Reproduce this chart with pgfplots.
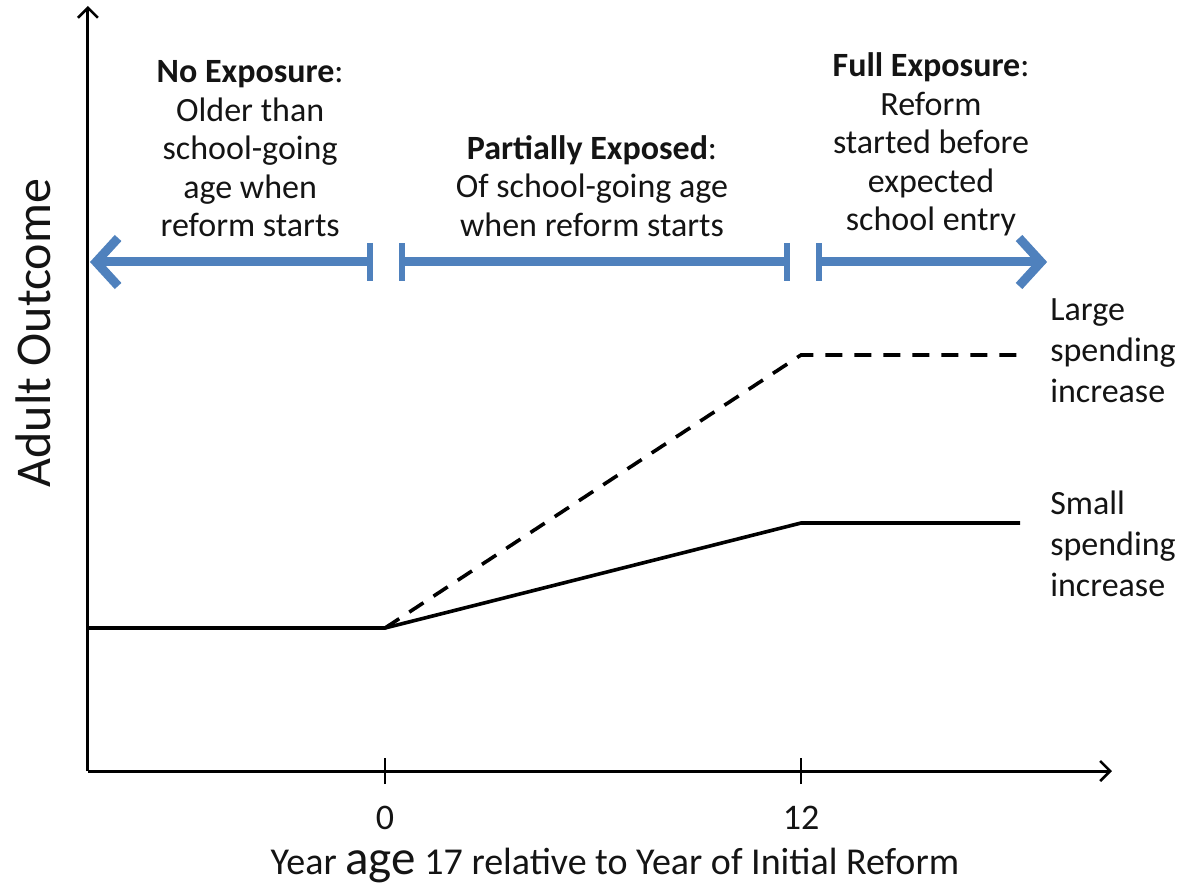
\documentclass[border=0pt]{standalone}
\usepackage{fontspec}
\setmainfont{Carlito}
\usepackage{pgfplots}
\pgfplotsset{compat=1.18}
\usetikzlibrary{arrows.meta}
\definecolor{ablue}{RGB}{79,129,189}
\definecolor{txt}{RGB}{20,20,20}
\begin{document}
\begin{tikzpicture}
\begin{axis}[
  scale only axis,
  width=512pt, height=382.5pt,
  xmin=-8.57, xmax=20.97, ymin=0, ymax=7.65,
  axis lines=left,
  axis line style={line width=1.5pt, -{Straight Barb[length=5pt,width=10pt,line width=1.3pt]}},
  xtick={0,12}, ytick=\empty,
  tick align=center,
  major tick length=13pt,
  tick style={line width=1.2pt, black},
  /pgf/number format/assume math mode=true,
  xticklabel style={font=\fontsize{18}{20}\selectfont, text=txt, inner sep=0pt, anchor=north, yshift=-11pt},
  clip=false,
  xlabel={},
]
\addplot[black, line width=1.8pt] coordinates {(-8.57,1.43) (0,1.43) (12,2.48) (18.32,2.48)};
\addplot[black, line width=1.8pt, dash pattern=on 8.5pt off 6pt] coordinates {(0,1.43) (12,4.16) (18.32,4.16)};

% blue exposure arrows
\draw[ablue, line width=4.5pt, {Straight Barb[length=11pt,width=24pt,line width=4.5pt]}-{Bar[width=19pt,line width=3pt]}] (axis cs:-8.51,5.09) -- (axis cs:-0.35,5.09);
\draw[ablue, line width=4.5pt, {Bar[width=19pt,line width=3pt]}-{Bar[width=19pt,line width=3pt]}] (axis cs:0.40,5.09) -- (axis cs:11.67,5.09);
\draw[ablue, line width=4.5pt, {Bar[width=19pt,line width=3pt]}-{Straight Barb[length=11pt,width=24pt,line width=4.5pt]}] (axis cs:12.42,5.09) -- (axis cs:19.10,5.09);

% annotations
\begin{scope}[every node/.style={font=\fontsize{17}{19.25}\selectfont, text=txt, align=center, inner sep=0pt}]
\node at (axis cs:-3.89,6.22) {\textbf{No Exposure}:\\Older than\\school-going\\age when\\reform starts};
\node at (axis cs:5.97,5.85) {\textbf{Partially Exposed}:\\Of school-going age\\when reform starts};
\node at (axis cs:15.75,6.265) {\textbf{Full Exposure}:\\Reform\\started before\\expected\\school entry};
\end{scope}
\begin{scope}[every node/.style={font=\fontsize{17}{20.5}\selectfont, text=txt, align=left, inner sep=0pt, anchor=west}]
\node at (axis cs:19.18,4.20) {Large\\spending\\increase};
\node at (axis cs:19.18,2.27) {Small\\spending\\increase};
\end{scope}

% axis labels
\node[font=\fontsize{25}{28}\selectfont, text=txt, rotate=90, inner sep=0pt] at (axis cs:-10.15,4.38) {Adult Outcome};
\node[font=\fontsize{19}{22}\selectfont, text=txt, anchor=base, inner sep=0pt] at (axis cs:6.63,-1.03) {Year {\fontsize{24.5}{26}\selectfont age} 17 relative to Year of Initial Reform};

\coordinate (bl) at (axis cs:-11.106,-1.21);
\coordinate (tr) at (axis cs:23.077,7.71);
\end{axis}
\pgfresetboundingbox
\path[use as bounding box] (bl) rectangle (tr);
\end{tikzpicture}
\end{document}
